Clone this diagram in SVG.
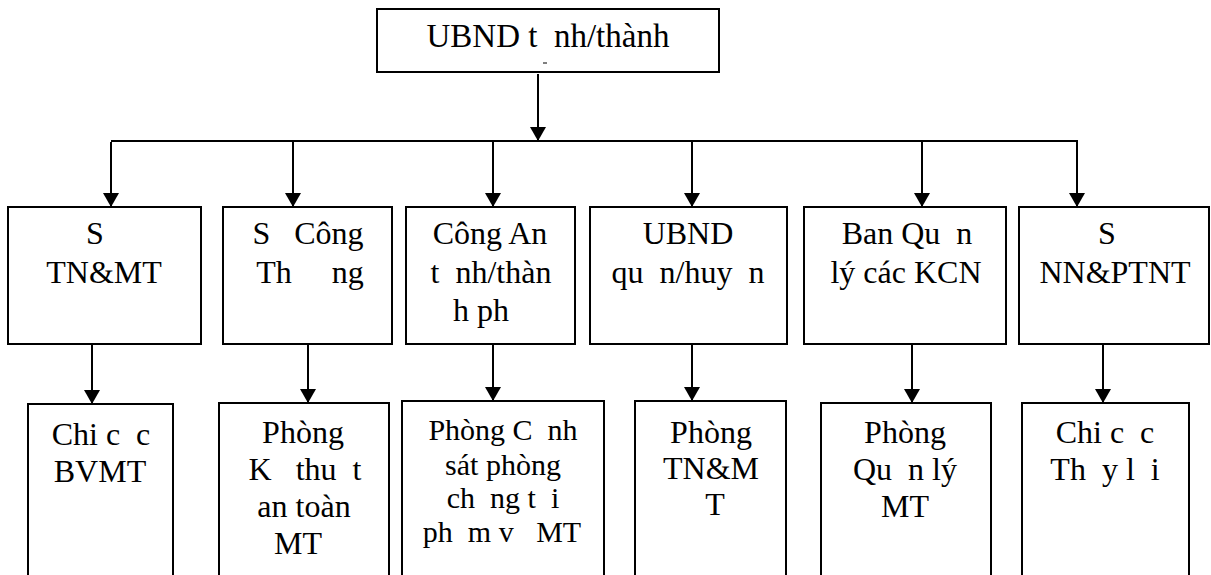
<svg xmlns="http://www.w3.org/2000/svg" width="1211" height="575" viewBox="0 0 1211 575">
  <style>
    .box { fill: #fff; stroke: #000; stroke-width: 2; }
    .lbl { font-family: "Liberation Serif", "Times New Roman", serif; font-size: 32px; fill: #000; text-anchor: middle; white-space: pre; }
    .sm { font-size: 30px; }
    .wire { fill: none; stroke: #000; stroke-width: 2; }
  </style>
  <defs>
    <marker id="arrow" markerUnits="userSpaceOnUse" markerWidth="14" markerHeight="16" viewBox="0 0 14 16" refX="14" refY="8" orient="auto">
      <path d="M0,0 L14,8 L0,16 z" fill="#000"/>
    </marker>
  </defs>

  <!-- connectors -->
  <g id="connectors" class="wire">
    <path d="M538,74 V141" marker-end="url(#arrow)"/>
    <path d="M111,141 H1078"/>
    <path d="M111,142 V207" marker-end="url(#arrow)"/>
    <path d="M293,142 V207" marker-end="url(#arrow)"/>
    <path d="M493,142 V207" marker-end="url(#arrow)"/>
    <path d="M692,142 V207" marker-end="url(#arrow)"/>
    <path d="M922,142 V207" marker-end="url(#arrow)"/>
    <path d="M1077,142 V207" marker-end="url(#arrow)"/>
    <path d="M92,345 V404" marker-end="url(#arrow)"/>
    <path d="M308,345 V403" marker-end="url(#arrow)"/>
    <path d="M493,345 V401" marker-end="url(#arrow)"/>
    <path d="M692,345 V401" marker-end="url(#arrow)"/>
    <path d="M912,345 V403" marker-end="url(#arrow)"/>
    <path d="M1103,345 V403" marker-end="url(#arrow)"/>
  </g>

  <!-- top node -->
  <g id="ubnd-tinh">
    <rect class="box" x="377" y="9" width="342" height="63"/>
    <text class="lbl" x="548" y="47" style="font-size:33px">UBND t  nh/thành</text>
    <line x1="543" y1="63" x2="547" y2="63" stroke="#000" stroke-width="1"/>
  </g>

  <!-- level 1 -->
  <g id="so-tnmt">
    <rect class="box" x="8" y="207" width="193" height="137"/>
    <text class="lbl" x="95" y="244">S</text>
    <text class="lbl" x="104" y="283">TN&amp;MT</text>
  </g>
  <g id="so-cong-thuong">
    <rect class="box" x="223" y="207" width="169" height="137"/>
    <text class="lbl" x="308" y="244">S   Công</text>
    <text class="lbl" x="310" y="283">Th     ng</text>
  </g>
  <g id="cong-an">
    <rect class="box" x="406" y="207" width="169" height="137"/>
    <text class="lbl" x="490" y="244">Công An</text>
    <text class="lbl" x="491" y="283">t  nh/thàn</text>
    <text class="lbl" x="481" y="321">h ph</text>
  </g>
  <g id="ubnd-huyen">
    <rect class="box" x="590" y="207" width="197" height="137"/>
    <text class="lbl" x="688" y="244">UBND</text>
    <text class="lbl" x="688" y="283">qu  n/huy  n</text>
  </g>
  <g id="ban-ql-kcn">
    <rect class="box" x="804" y="207" width="202" height="137"/>
    <text class="lbl" x="907" y="244">Ban Qu  n</text>
    <text class="lbl" x="906" y="283">lý các KCN</text>
  </g>
  <g id="so-nnptnt">
    <rect class="box" x="1019" y="207" width="190" height="137"/>
    <text class="lbl" x="1107" y="244">S</text>
    <text class="lbl" x="1115" y="283">NN&amp;PTNT</text>
  </g>

  <!-- level 2 -->
  <g id="chi-cuc-bvmt">
    <rect class="box" x="28" y="404" width="145" height="180"/>
    <text class="lbl" x="101" y="445">Chi c  c</text>
    <text class="lbl" x="100" y="482">BVMT</text>
  </g>
  <g id="phong-ktat">
    <rect class="box" x="219" y="403" width="170" height="180"/>
    <text class="lbl" x="303" y="443">Phòng</text>
    <text class="lbl" x="305" y="480">K   thu  t</text>
    <text class="lbl" x="304" y="517">an toàn</text>
    <text class="lbl" x="298" y="554">MT</text>
  </g>
  <g id="phong-canh-sat">
    <rect class="box" x="402" y="401" width="202" height="180"/>
    <text class="lbl sm" x="503" y="440">Phòng C  nh</text>
    <text class="lbl sm" x="503" y="475">sát phòng</text>
    <text class="lbl sm" x="503" y="508">ch  ng t  i</text>
    <text class="lbl sm" x="502" y="542">ph  m v   MT</text>
  </g>
  <g id="phong-tnmt">
    <rect class="box" x="635" y="401" width="151" height="180"/>
    <text class="lbl" x="711" y="443">Phòng</text>
    <text class="lbl" x="711" y="479">TN&amp;M</text>
    <text class="lbl" x="715" y="515">T</text>
  </g>
  <g id="phong-qlmt">
    <rect class="box" x="821" y="403" width="170" height="180"/>
    <text class="lbl" x="905" y="443">Phòng</text>
    <text class="lbl" x="905" y="480">Qu  n lý</text>
    <text class="lbl" x="905" y="517">MT</text>
  </g>
  <g id="chi-cuc-thuy-loi">
    <rect class="box" x="1022" y="403" width="167" height="180"/>
    <text class="lbl" x="1105" y="443">Chi c  c</text>
    <text class="lbl" x="1105" y="480">Th  y l  i</text>
  </g>
</svg>
